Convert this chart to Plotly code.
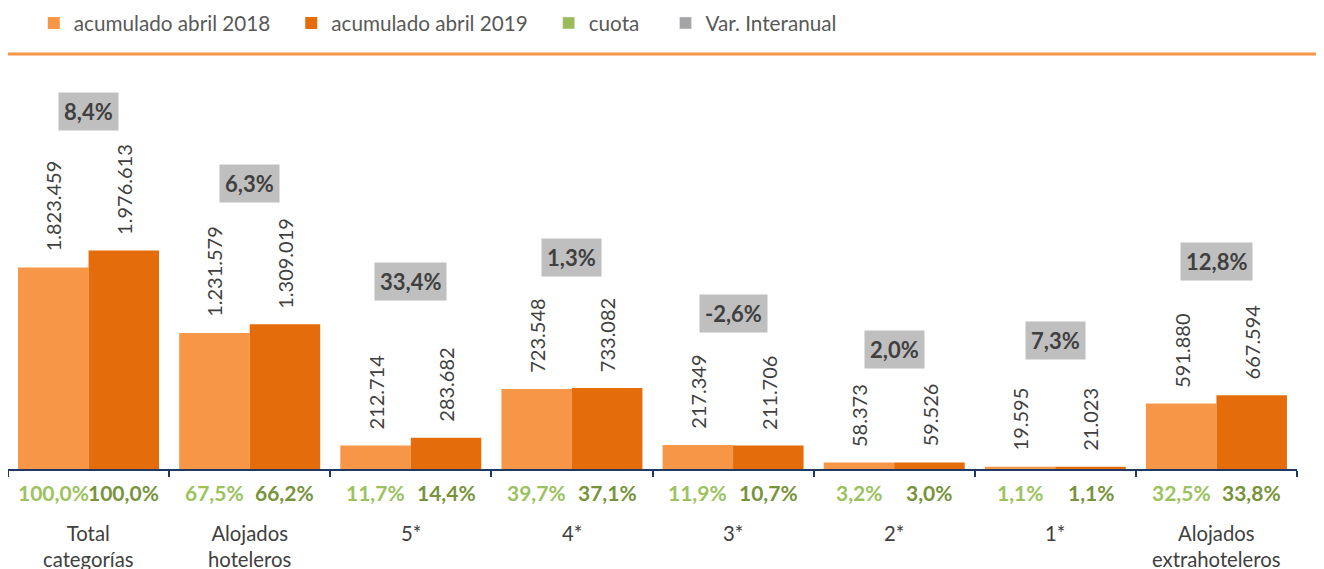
import plotly.graph_objects as go

# ---- data ----
categories = ["Total<br>categorías", "Alojados<br>hoteleros", "5*", "4*", "3*", "2*", "1*",
              "Alojados<br>extrahoteleros"]
acum_2018 = [1823459, 1231579, 212714, 723548, 217349, 58373, 19595, 591880]
acum_2019 = [1976613, 1309019, 283682, 733082, 211706, 59526, 21023, 667594]
cuota_2018 = [100.0, 67.5, 11.7, 39.7, 11.9, 3.2, 1.1, 32.5]
cuota_2019 = [100.0, 66.2, 14.4, 37.1, 10.7, 3.0, 1.1, 33.8]
var_interanual = [8.4, 6.3, 33.4, 1.3, -2.6, 2.0, 7.3, 12.8]

# ---- style / layout ----
C18 = "#F79646"
C19 = "#E46C0A"
G18 = "#9BC25E"
G19 = "#77933C"
GRAY = "#BFBFBF"
AXIS = "#1F3864"
FONT = "Lato"
BARGAP = 0.125
BW = (1 - BARGAP) / 2
var_box_lift_px = [139, 141, 156, 130, 131, 113, 126, 134]
PAD = "\u00a0" * 3
PAD_CUOTA = "\u00a0" * 4


def pct(v):
    return f"{v:.1f}".replace(".", ",") + "%"


def thousands(v):
    return f"{v:,}".replace(",", ".")


xs = list(range(len(categories)))

fig = go.Figure()
fig.add_trace(go.Bar(x=xs, y=acum_2018, name="acumulado abril 2018" + PAD, marker_color=C18,
                     marker_line_width=0, offsetgroup="a"))
fig.add_trace(go.Bar(x=xs, y=acum_2019, name="acumulado abril 2019" + PAD, marker_color=C19,
                     marker_line_width=0, offsetgroup="b"))
fig.add_trace(go.Bar(x=[0], y=[None], name="cuota" + PAD_CUOTA, marker_color="#9BBB59",
                     offsetgroup="a"))
fig.add_trace(go.Bar(x=[0], y=[None], name="Var. Interanual", marker_color="#A5A5A5",
                     offsetgroup="b"))

ann = []
for i in xs:
    # value labels (rotated)
    for dx, v in ((-BW / 2, acum_2018[i]), (BW / 2, acum_2019[i])):
        ann.append(dict(x=i + dx, y=v, xref="x", yref="y", text=thousands(v), textangle=-90,
                        showarrow=False, yanchor="bottom", xanchor="center", yshift=14,
                        font=dict(family=FONT, size=20, color="#404040")))
    # cuota labels
    ann.append(dict(x=i - BW / 2, y=0, xref="x", yref="y", text=pct(cuota_2018[i]),
                    showarrow=False, yanchor="middle", yshift=-23,
                    font=dict(family=FONT, size=21, color=G18, weight="bold")))
    ann.append(dict(x=i + BW / 2, y=0, xref="x", yref="y", text=pct(cuota_2019[i]),
                    showarrow=False, yanchor="middle", yshift=-23,
                    font=dict(family=FONT, size=21, color=G19, weight="bold")))
    # category labels
    ann.append(dict(x=i, y=0, xref="x", yref="y", text=categories[i], showarrow=False,
                    yanchor="top", yshift=-50,
                    font=dict(family=FONT, size=20.3, color="#404040")))
    # variation boxes
    top = max(acum_2018[i], acum_2019[i])
    ann.append(dict(x=i, y=top, xref="x", yref="y", text=pct(var_interanual[i]),
                    showarrow=False, yanchor="middle", yshift=var_box_lift_px[i],
                    bgcolor=GRAY, borderpad=5,
                    font=dict(family=FONT, size=22, color="#404040", weight="bold")))

fig.update_layout(
    width=1324, height=569,
    margin=dict(l=0, r=35, t=77, b=108, autoexpand=False),
    paper_bgcolor="white", plot_bgcolor="white",
    barmode="group", bargap=BARGAP, bargroupgap=0,
    font=dict(family=FONT, color="#595959"),
    showlegend=True,
    legend=dict(orientation="h", x=0.02, y=1.1615, xanchor="left", yanchor="middle",
                font=dict(family=FONT, size=20.7, color="#595959"), traceorder="normal",
                bgcolor="rgba(0,0,0,0)"),
    annotations=ann,
    shapes=[dict(type="line", xref="paper", yref="paper", x0=0, x1=1.03, y0=1.081, y1=1.081,
                 line=dict(color=C18, width=3))],
    xaxis=dict(range=[-0.5, len(categories) - 0.5], tickvals=[k - 0.5 for k in range(len(categories) + 1)],
               showticklabels=False, ticks="outside", ticklen=6, tickwidth=2, tickcolor=AXIS,
               showline=True, linecolor=AXIS, linewidth=2, showgrid=False, zeroline=False,
               fixedrange=True),
    yaxis=dict(range=[0, 3.475e6], visible=False, showgrid=False, zeroline=False, fixedrange=True),
)

fig.write_html("out.html")
